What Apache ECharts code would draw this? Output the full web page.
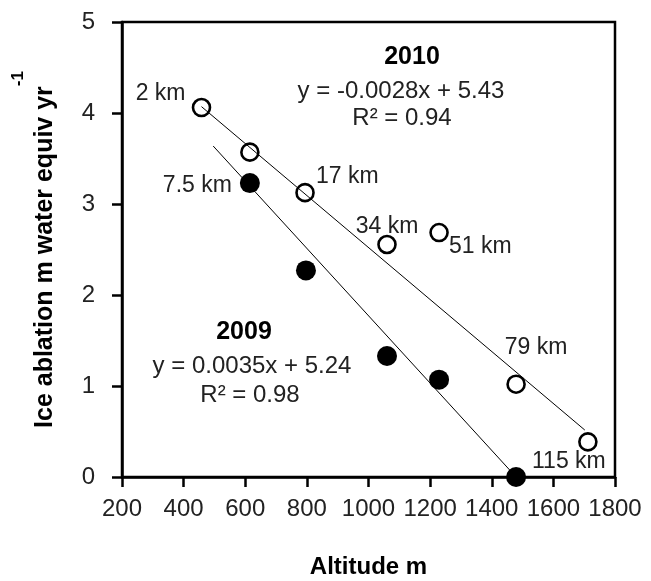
<!DOCTYPE html>
<html><head><meta charset="utf-8">
<script src="https://cdn.jsdelivr.net/npm/echarts@6/dist/echarts.min.js"></script>
<style>html,body{margin:0;padding:0;background:#fff}#c{width:651px;height:581px}</style>
</head><body><div id="c"></div>
<script>
// ---- data ----
const altitude2010 = [458, 615, 794, 1060, 1229, 1479, 1712];
const ablation2010 = [4.06, 3.57, 3.125, 2.555, 2.686, 1.02, 0.386];
const stations2010 = ['2 km', '', '17 km', '34 km', '51 km', '79 km', '115 km'];

const altitude2009 = [615, 797, 1060, 1229, 1479];
const ablation2009 = [3.23, 2.27, 1.33, 1.07, 0.0];
const stations2009 = ['7.5 km', '', '', '', ''];

// trend lines as drawn (end points)
const trendX2010 = [458, 1702];
const trendY2010 = [4.07, 0.516];
const trendX2009 = [496, 1479];
const trendY2009 = [3.637, 0.0];

const xMin = 200, xMax = 1800, xStep = 200;
const yMin = 0, yMax = 5, yStep = 1;

const eq2010 = ['2010', 'y = -0.0028x + 5.43', 'R\u00B2 = 0.94'];
const eq2009 = ['2009', 'y = 0.0035x + 5.24', 'R\u00B2 = 0.98'];

// ---- label placement (style, not data) ----
const FONT = 'Arial, "Liberation Sans", sans-serif';
const labelPlace = {
  '2 km':   {align: 'right', offset: [-16, -14]},
  '7.5 km': {align: 'right', offset: [-18, 3]},
  '17 km':  {align: 'left', offset: [11, -16]},
  '34 km':  {align: 'center', offset: [0, -18]},
  '51 km':  {align: 'left', offset: [10, 14]},
  '79 km':  {align: 'center', offset: [20, -37]},
  '115 km': {align: 'center', offset: [-19, 20]}
};
function pts(xs, ys, names) {
  return xs.map((x, i) => {
    const item = {value: [x, ys[i]]};
    const n = names ? names[i] : '';
    if (n) {
      const p = labelPlace[n];
      item.label = {show: true, formatter: n, position: 'inside', align: p.align,
        verticalAlign: 'middle', offset: p.offset, color: '#222', fontSize: 23, fontFamily: FONT};
    }
    return item;
  });
}

const chart = echarts.init(document.getElementById('c'), null, {renderer: 'canvas'});
const axisCommon = {
  axisLine: {show: true, onZero: false, lineStyle: {color: '#000', width: 2.5}},
  axisTick: {show: true, inside: false, length: 10, lineStyle: {color: '#000', width: 2.5}},
  splitLine: {show: false},
};
chart.setOption({
  backgroundColor: '#fff',
  animation: false,
  grid: {left: 122, right: 36, top: 22, bottom: 104, containLabel: false, outerBoundsMode: 'none',
    show: true, borderColor: '#000', borderWidth: 2.5, backgroundColor: 'transparent'},
  xAxis: Object.assign({
    type: 'value', min: xMin, max: xMax, interval: xStep,
    name: 'Altitude m', nameLocation: 'middle', nameGap: 78,
    nameTextStyle: {fontSize: 24, fontWeight: 'bold', color: '#000', fontFamily: FONT},
    axisLabel: {fontSize: 24, color: '#222', margin: 20, fontFamily: FONT, formatter: v => String(v)}
  }, axisCommon),
  yAxis: Object.assign({
    type: 'value', min: yMin, max: yMax, interval: yStep,
    name: '{a|Ice ablation m water equiv yr}{s|-1}', nameLocation: 'middle', nameGap: 64,
    nameTextStyle: {color: '#000', fontFamily: FONT,
      rich: {a: {fontSize: 25, fontWeight: 'bold', lineHeight: 48, verticalAlign: 'bottom', fontFamily: FONT, color: '#000'},
             s: {fontSize: 17, fontWeight: 'bold', lineHeight: 17, verticalAlign: 'top', fontFamily: FONT, color: '#000'}}},
    axisLabel: {fontSize: 24, color: '#222', margin: 27, fontFamily: FONT, formatter: v => String(v)}
  }, axisCommon),
  series: [
    {type: 'line', data: trendX2010.map((x, i) => [x, trendY2010[i]]), symbol: 'none',
     lineStyle: {color: '#000', width: 1}, z: 3, silent: true},
    {type: 'line', data: trendX2009.map((x, i) => [x, trendY2009[i]]), symbol: 'none',
     lineStyle: {color: '#000', width: 1}, z: 3, silent: true},
    {type: 'scatter', data: pts(altitude2010, ablation2010, stations2010), symbol: 'circle', symbolSize: 17,
     itemStyle: {color: 'rgba(255,255,255,0)', borderColor: '#000', borderWidth: 2.6, opacity: 1}, z: 2},
    {type: 'scatter', data: pts(altitude2009, ablation2009, stations2009), symbol: 'circle', symbolSize: 20,
     itemStyle: {color: '#000', opacity: 1}, z: 4}
  ],
  graphic: [
    {type: 'text', x: 412, y: 57, style: {text: eq2010[0], font: 'bold 25px ' + FONT, fill: '#000', align: 'center', verticalAlign: 'middle'}},
    {type: 'text', x: 401, y: 91, style: {text: eq2010[1], font: '24px ' + FONT, fill: '#222', align: 'center', verticalAlign: 'middle'}},
    {type: 'text', x: 402, y: 118, style: {text: eq2010[2], font: '24px ' + FONT, fill: '#222', align: 'center', verticalAlign: 'middle'}},
    {type: 'text', x: 244, y: 332, style: {text: eq2009[0], font: 'bold 25px ' + FONT, fill: '#000', align: 'center', verticalAlign: 'middle'}},
    {type: 'text', x: 252, y: 366, style: {text: eq2009[1], font: '24px ' + FONT, fill: '#222', align: 'center', verticalAlign: 'middle'}},
    {type: 'text', x: 250, y: 395, style: {text: eq2009[2], font: '24px ' + FONT, fill: '#222', align: 'center', verticalAlign: 'middle'}}
  ]
});
</script></body></html>
